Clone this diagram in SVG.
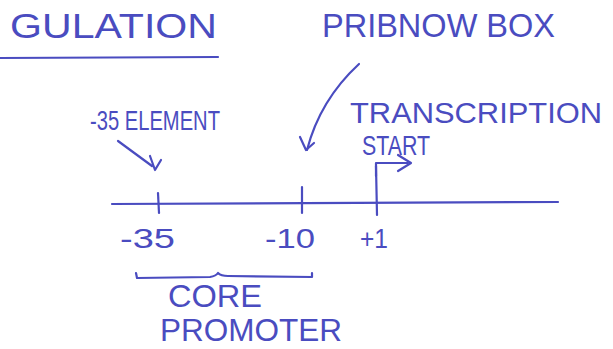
<svg xmlns="http://www.w3.org/2000/svg" width="613" height="349" viewBox="0 0 613 349">
<style>
.t{font-family:"Liberation Sans","DejaVu Sans",sans-serif;fill:#4a4cc0;font-weight:normal}
.s{stroke:#4a4cc0;stroke-width:2.2;fill:none;stroke-linecap:round;stroke-linejoin:round}
</style>
<rect width="613" height="349" fill="#ffffff"/>
<g id="title">
<text class="t" x="10" y="38" font-size="35" textLength="207" lengthAdjust="spacingAndGlyphs">GULATION</text>
<path class="s" d="M0 58 L218 57" stroke-width="2.6"/>
</g>
<g id="pribnow">
<text class="t" x="322" y="37" font-size="34" textLength="233" lengthAdjust="spacingAndGlyphs">PRIBNOW BOX</text>
</g>
<g id="element35">
<text class="t" x="90" y="130" font-size="27" textLength="130" lengthAdjust="spacingAndGlyphs">-35 ELEMENT</text>
</g>
<g id="transcription">
<text class="t" x="350" y="123" font-size="29" textLength="252" lengthAdjust="spacingAndGlyphs">TRANSCRIPTION</text>
<text class="t" x="362" y="155" font-size="27" textLength="68" lengthAdjust="spacingAndGlyphs">START</text>
</g>
<g id="axis">
<path class="s" d="M112 204 L558 202"/>
<path class="s" d="M158 193 L159 213"/>
<path class="s" d="M302 187 L302 213"/>
<path class="s" d="M376 166 L377 215"/>
<text class="t" x="120" y="248" font-size="27" textLength="55" lengthAdjust="spacingAndGlyphs">-35</text>
<text class="t" x="265" y="248" font-size="27" textLength="50" lengthAdjust="spacingAndGlyphs">-10</text>
<text class="t" x="360" y="248" font-size="27" textLength="28" lengthAdjust="spacingAndGlyphs">+1</text>
</g>
<g id="core-promoter">
<path class="s" d="M136 273 L137 278 L210 277 Q216 276 218 273 Q221 276 228 276 L312 277 L312 273"/>
<text class="t" x="168" y="307" font-size="32" textLength="94" lengthAdjust="spacingAndGlyphs">CORE</text>
<text class="t" x="160" y="341" font-size="32" textLength="182" lengthAdjust="spacingAndGlyphs">PROMOTER</text>
</g>
<g id="connectors">
<path class="s" d="M359 64 Q320 100 307 150"/>
<path class="s" d="M300 137 L306 150 L314 143"/>
<path class="s" d="M118 141 L152 166"/>
<path class="s" d="M150 156 L155 170 L161 160" />
<path class="s" d="M376 176 L376 163 L408 163"/>
<path class="s" d="M398 155 L411 163 L398 171"/>
</g>
</svg>
